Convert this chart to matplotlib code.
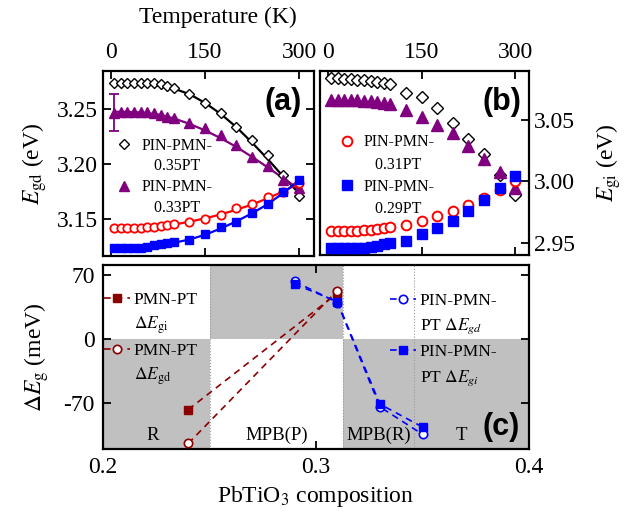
import matplotlib
matplotlib.use('Agg')
from matplotlib import pyplot as plt
from matplotlib.lines import Line2D

plt.rcParams['font.family'] = ['Liberation Serif', 'DejaVu Serif']
plt.rcParams['mathtext.fontset'] = 'stix'
plt.rcParams['axes.unicode_minus'] = False

# temperatures (K)
temp = [5, 16, 26, 37, 47, 58, 68, 79, 89, 100, 125, 150, 175, 200, 225, 250, 275, 300]

# panel (a): E_gd (eV)
egd_35 = [3.2735, 3.2735, 3.2735, 3.2735, 3.2735, 3.2735, 3.2733, 3.2725, 3.2712, 3.2690,
          3.2634, 3.2552, 3.2461, 3.2339, 3.2218, 3.2082, 3.1900, 3.1709]
egd_33 = [3.2467, 3.2476, 3.2476, 3.2476, 3.2476, 3.2470, 3.2461, 3.2445, 3.2430, 3.2415,
          3.2370, 3.2324, 3.2264, 3.2173, 3.2066, 3.1982, 3.1855, 3.1779]
egd_31 = [3.1415, 3.1415, 3.1415, 3.1415, 3.1415, 3.1424, 3.1433, 3.1439, 3.1448, 3.1455,
          3.1476, 3.1497, 3.1536, 3.1597, 3.1636, 3.1697, 3.1748, 3.1824]
egd_29 = [3.1239, 3.1239, 3.1239, 3.1239, 3.1242, 3.1248, 3.1261, 3.1270, 3.1279, 3.1288,
          3.1309, 3.1364, 3.1430, 3.1476, 3.1552, 3.1636, 3.1748, 3.1855]
err_33 = 0.0165

# fitted curves for panel (a)
fit_T = [5, 25, 50, 75, 100, 125, 150, 175, 200, 225, 250, 275, 302]
fit_35 = [3.2735, 3.2734, 3.2730, 3.2712, 3.2685, 3.2635, 3.2555, 3.2455, 3.2335, 3.2195, 3.2045, 3.1885, 3.1722]
fit_33 = [3.2475, 3.2474, 3.2468, 3.2450, 3.2415, 3.2365, 3.2305, 3.2235, 3.2155, 3.2065, 3.1970, 3.1870, 3.1765]
fit_31 = [3.1415, 3.1415, 3.1418, 3.1428, 3.1450, 3.1477, 3.1507, 3.1543, 3.1585, 3.1633, 3.1689, 3.1752, 3.1830]
fit_29 = [3.1238, 3.1238, 3.1242, 3.1258, 3.1285, 3.1315, 3.1358, 3.1415, 3.1480, 3.1553, 3.1636, 3.1738, 3.1862]

# panel (b): E_gi (eV)
egi_35 = [3.0836, 3.0836, 3.0831, 3.0828, 3.0823, 3.0823, 3.0815, 3.0809, 3.0801, 3.0790,
          3.0720, 3.0680, 3.0594, 3.0473, 3.0347, 3.0218, 3.0048, 2.9887]
egi_33 = [3.0656, 3.0656, 3.0656, 3.0656, 3.0656, 3.0653, 3.0648, 3.0642, 3.0635, 3.0629,
          3.0580, 3.0522, 3.0460, 3.0393, 3.0290, 3.0185, 3.0075, 2.9949]
egi_31 = [2.9599, 2.9599, 2.9599, 2.9599, 2.9599, 2.9604, 2.9608, 2.9616, 2.9621, 2.9630,
          2.9648, 2.9675, 2.9720, 2.9761, 2.9809, 2.9868, 2.9930, 3.0003]
egi_29 = [2.9457, 2.9457, 2.9457, 2.9457, 2.9457, 2.9460, 2.9465, 2.9479, 2.9490, 2.9500,
          2.9519, 2.9573, 2.9618, 2.9680, 2.9761, 2.9849, 2.9949, 3.0043]

# panel (c): Delta E_g (meV) vs PbTiO3 composition
comp_pmn = [0.24, 0.31]
dEgi_pmn = [-77, 50]
dEgd_pmn = [-114, 53]
comp_pin = [0.29, 0.31, 0.33, 0.35]
dEgd_pin = [63, 40, -74, -104]
dEgi_pin = [60, 41, -71, -96]

phase_edges = [0.2, 0.25, 0.3125, 0.346, 0.4]
phase_names = ['R', 'MPB(P)', 'MPB(R)', 'T']
phase_pos = [0.2235, 0.2817, 0.3296, 0.3681]

black = 'black'
purple = '#800080'
red = '#ff0000'
blue = '#0000ff'
dred = '#8b0000'
grey = '#c0c0c0'

fs_tick = 17
fs_lab = 17

fig = plt.figure(figsize=(6.29, 5.14), dpi=100)
ax_a = fig.add_axes([0.1638, 0.5019, 0.3355, 0.3600])
ax_b = fig.add_axes([0.5087, 0.5039, 0.3323, 0.3580])
ax_c = fig.add_axes([0.1638, 0.1265, 0.6773, 0.3580])

for ax in (ax_a, ax_b, ax_c):
    for s in ax.spines.values():
        s.set_linewidth(1.6)

# ---------- panel (a)
ax_a.plot(fit_T, fit_35, color=black, lw=1.6, zorder=2)
ax_a.plot(fit_T, fit_33, color=purple, lw=1.6, zorder=2)
ax_a.plot(fit_T, fit_31, color=red, lw=1.6, zorder=2)
ax_a.plot(fit_T, fit_29, color=blue, lw=1.6, zorder=2)
h35, = ax_a.plot(temp, egd_35, ls='none', marker='D', ms=5, mfc='white', mec=black, mew=1, zorder=3)
h33, = ax_a.plot(temp, egd_33, ls='none', marker='^', ms=7, color=purple, zorder=3)
ax_a.plot(temp, egd_31, ls='none', marker='o', ms=6, mfc='white', mec=red, mew=1.3, zorder=3)
ax_a.plot(temp, egd_29, ls='none', marker='s', ms=5.5, color=blue, zorder=3)
ax_a.errorbar(temp[:1], egd_33[:1], yerr=err_33, fmt='none', ecolor=purple, elinewidth=1.3, capsize=3.5, capthick=1.3, zorder=3)
ax_a.set_xlim(-13, 324)
ax_a.set_ylim(3.1165, 3.2845)
ax_a.set_yticks([3.15, 3.20, 3.25])
ax_a.set_yticklabels(['3.15', '3.20', '3.25'])
ax_a.set_xticks([0, 150, 300])
ax_a.tick_params(direction='in', length=6, width=1.3, labelsize=fs_tick, top=True, right=True,
                 labeltop=True, labelbottom=False)
ax_a.tick_params(axis='x', pad=6)
ax_a.set_ylabel(r'$E_{\rm gd}$ (eV)', fontsize=fs_lab)
ax_a.yaxis.set_label_coords(-0.255, 0.5)
ax_a.text(0.853, 0.832, '(a)', transform=ax_a.transAxes, ha='center', va='center',
          fontsize=22, fontweight='bold', family='Liberation Sans')
blank = Line2D([], [], ls='none')
leg = ax_a.legend([h35, blank, h33, blank], ['PIN-PMN-', '   0.35PT', 'PIN-PMN-', '   0.33PT'],
                  loc='upper left', bbox_to_anchor=(0.055, 0.64), frameon=False, fontsize=11.5,
                  handlelength=1.2, handletextpad=0.5, labelspacing=0.3, borderpad=0, borderaxespad=0)

# ---------- panel (b)
ax_b.plot(temp, egi_35, ls='none', marker='D', ms=6, mfc='white', mec=black, mew=1, zorder=3)
ax_b.plot(temp, egi_33, ls='none', marker='^', ms=8, color=purple, zorder=3)
h31, = ax_b.plot(temp, egi_31, ls='none', marker='o', ms=7, mfc='white', mec=red, mew=1.4, zorder=3)
h29, = ax_b.plot(temp, egi_29, ls='none', marker='s', ms=6.5, color=blue, zorder=3)
ax_b.set_xlim(-13, 322)
ax_b.set_ylim(2.9403, 3.0895)
ax_b.set_xticks([0, 150, 300])
ax_b.yaxis.tick_right()
ax_b.set_yticks([2.95, 3.00, 3.05])
ax_b.set_yticklabels(['2.95', '3.00', '3.05'])
ax_b.tick_params(direction='in', length=6, width=1.3, labelsize=fs_tick, top=True, right=True,
                 left=False, labeltop=True, labelbottom=False)
ax_b.tick_params(axis='x', pad=6)
ax_b.yaxis.set_label_position('right')
ax_b.set_ylabel(r'$E_{\rm gi}$ (eV)', fontsize=fs_lab, rotation=90)
ax_b.yaxis.set_label_coords(1.31, 0.5)
ax_b.text(0.871, 0.832, '(b)', transform=ax_b.transAxes, ha='center', va='center',
          fontsize=22, fontweight='bold', family='Liberation Sans')
ax_b.legend([h31, blank, h29, blank], ['PIN-PMN-', '   0.31PT', 'PIN-PMN-', '   0.29PT'],
            loc='upper left', bbox_to_anchor=(0.085, 0.655), frameon=False, fontsize=11.5,
            handlelength=1.2, handletextpad=0.4, labelspacing=0.38, borderpad=0, borderaxespad=0)

fig.text(218 / 629, 1 - 17 / 514, 'Temperature (K)', ha='center', va='center', fontsize=fs_lab)

# ---------- panel (c)
ylo, yhi = -120, 81
for i in range(4):
    x0, x1 = phase_edges[i], phase_edges[i + 1]
    if i == 1:
        ax_c.fill_between([x0, x1], 0, yhi, color=grey, lw=0, zorder=0)
    else:
        ax_c.fill_between([x0, x1], ylo, 0, color=grey, lw=0, zorder=0)
for x in phase_edges[1:4]:
    ax_c.axvline(x, color='#9a9a9a', ls=':', lw=0.8, zorder=0.5)
for name, xp in zip(phase_names, phase_pos):
    ax_c.text(xp, 0.075, name, transform=ax_c.get_xaxis_transform(), ha='center', va='center', fontsize=13.5)

g1, = ax_c.plot(comp_pmn, dEgi_pmn, ls=(0, (4, 3)), lw=1.2, color=dred, marker='s', ms=6, mec=dred, mfc=dred, zorder=3)
g2, = ax_c.plot(comp_pmn, dEgd_pmn, ls=(0, (4, 3)), lw=1.2, color=dred, marker='o', ms=6, mec=dred, mfc='white', mew=1.2, zorder=3)
g3, = ax_c.plot(comp_pin, dEgd_pin, ls=(0, (4, 3)), lw=1.2, color=blue, marker='o', ms=6, mec=blue, mfc='white', mew=1.2, zorder=3)
g4, = ax_c.plot(comp_pin, dEgi_pin, ls=(0, (4, 3)), lw=1.2, color=blue, marker='s', ms=6, mec=blue, mfc=blue, zorder=3)

ax_c.set_xlim(0.2, 0.4)
ax_c.set_ylim(ylo, yhi)
ax_c.set_xticks([0.2, 0.3, 0.4])
ax_c.set_xticklabels(['0.2', '0.3', '0.4'])
ax_c.set_yticks([-70, 0, 70])
ax_c.tick_params(direction='in', length=6, width=1.3, labelsize=fs_tick, top=True, right=True, pad=6)
ax_c.set_xlabel(r'PbTiO$_3$ composition', fontsize=fs_lab)
ax_c.xaxis.set_label_coords(0.5, -0.19)
ax_c.set_ylabel(r'$\mathit{\Delta E}_{\rm g}$ (meV)', fontsize=fs_lab)
ax_c.yaxis.set_label_coords(-0.121, 0.5)
ax_c.text(0.934, 0.12, '(c)', transform=ax_c.transAxes, ha='center', va='center',
          fontsize=22, fontweight='bold', family='Liberation Sans')

leg_l = ax_c.legend([g1, blank, g2, blank], ['PMN-PT', r'$\Delta E_{\rm gi}$', 'PMN-PT', r'$\Delta E_{\rm gd}$'],
                    loc='upper left', bbox_to_anchor=(0.003, 0.853), frameon=False, fontsize=12.5,
                    handlelength=1.5, handletextpad=0.2, labelspacing=0.38, borderpad=0, borderaxespad=0)
ax_c.add_artist(leg_l)
ax_c.legend([g3, blank, g4, blank], ['PIN-PMN-', r'PT $\Delta E_{gd}$', 'PIN-PMN-', r'PT $\Delta E_{gi}$'],
            loc='upper left', bbox_to_anchor=(0.674, 0.85), frameon=False, fontsize=12.5,
            handlelength=1.5, handletextpad=0.2, labelspacing=0.45, borderpad=0, borderaxespad=0)

fig.savefig('out.png', dpi=100)
